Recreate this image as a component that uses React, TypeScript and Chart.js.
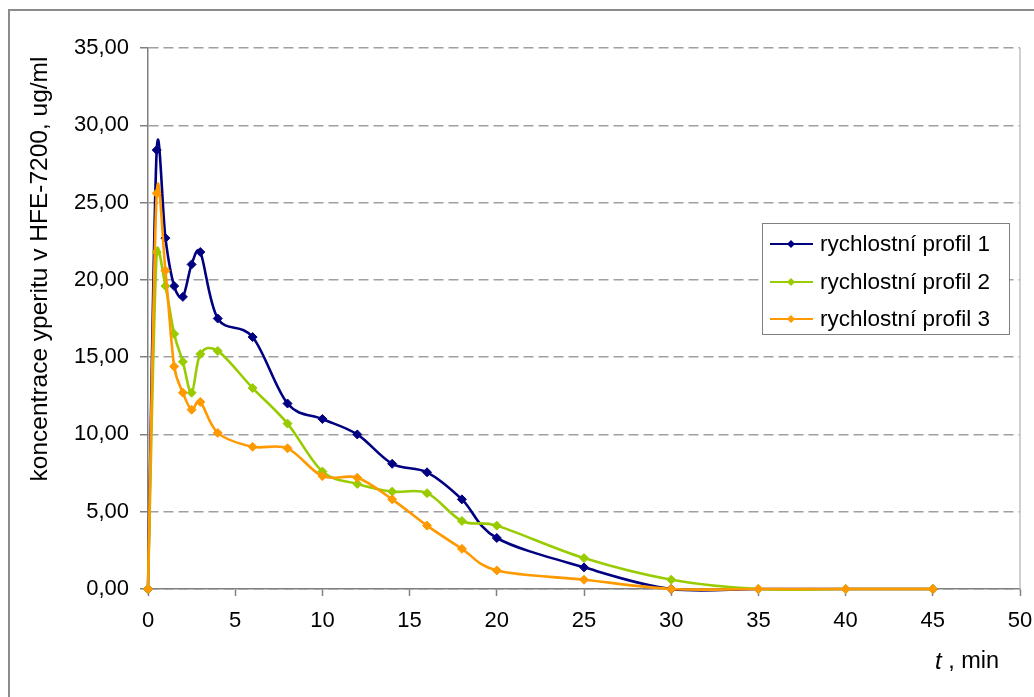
import React, { useEffect, useRef } from "react";
import { Chart, registerables } from "chart.js";

Chart.register(...registerables);

const times = [0, 0.5, 1, 1.5, 2, 2.5, 3, 4, 6, 8, 10, 12, 14, 16, 18, 20, 25, 30, 35, 40, 45];
const profil1 = [0, 28.4, 22.7, 19.6, 18.9, 21.0, 21.8, 17.5, 16.3, 12.0, 11.0, 10.0, 8.1, 7.55, 5.8, 3.3, 1.4, 0, 0, 0, 0];
const profil2 = [0, 21.8, 19.6, 16.5, 14.7, 12.7, 15.2, 15.4, 13.0, 10.7, 7.6, 6.8, 6.3, 6.2, 4.4, 4.1, 2.0, 0.6, 0, 0, 0];
const profil3 = [0, 25.6, 20.6, 14.4, 12.7, 11.6, 12.1, 10.1, 9.2, 9.1, 7.3, 7.2, 5.8, 4.1, 2.6, 1.2, 0.6, 0, 0, 0, 0];

const seriesLabels = ["rychlostní profil 1", "rychlostní profil 2", "rychlostní profil 3"];
const seriesColors = ["#000080", "#99CC00", "#FF9900"];
const yTitle = "koncentrace yperitu v HFE-7200, ug/ml";
const xTitleItalic = "t";
const xTitleRest = " , min";

const FONT = "'Liberation Sans', Arial, sans-serif";

const toPts = (vals: number[]) => vals.map((v, i) => ({ x: times[i], y: v }));

// Excel-like smoothing of the line (control points computed from the library's own pixel positions)
const smoothPlugin = {
  id: "excelSmooth",
  beforeDatasetsDraw(chart: any) {
    chart.data.datasets.forEach((_d: any, di: number) => {
      const meta = chart.getDatasetMeta(di);
      const pts = meta.data;
      const n = pts.length;
      const dist = (a: any, b: any) => Math.hypot(b.x - a.x, b.y - a.y);
      for (let i = 0; i < n - 1; i++) {
        const p1 = pts[i];
        const p2 = pts[i + 1];
        const p0 = i > 0 ? pts[i - 1] : p1;
        const p3 = i + 2 < n ? pts[i + 2] : p2;
        const d02 = dist(p0, p2);
        const d12 = dist(p1, p2);
        const d13 = dist(p1, p3);
        const f0 = d02 / 6 < d12 / 2 ? 1 / 6 : d02 > 0 ? d12 / (2 * d02) : 0;
        const f3 = d13 / 6 < d12 / 2 ? 1 / 6 : d13 > 0 ? d12 / (2 * d13) : 0;
        p1.cp2x = p1.x + (p2.x - p0.x) * f0;
        p1.cp2y = p1.y + (p2.y - p0.y) * f0;
        p2.cp1x = p2.x - (p3.x - p1.x) * f3;
        p2.cp1y = p2.y - (p3.y - p1.y) * f3;
      }
      if (n) {
        pts[0].cp1x = pts[0].x;
        pts[0].cp1y = pts[0].y;
        pts[n - 1].cp2x = pts[n - 1].x;
        pts[n - 1].cp2y = pts[n - 1].y;
      }
      if (meta.dataset) {
        meta.dataset._pointsUpdated = true;
        meta.dataset._path = undefined;
      }
    });
  },
};

const decorPlugin = {
  id: "decor",
  beforeDraw(chart: any) {
    const ctx = chart.ctx;
    ctx.save();
    ctx.strokeStyle = "#8c8c8c";
    ctx.lineWidth = 2;
    ctx.strokeRect(9, 10, 1200, 1000);
    ctx.restore();
  },
  beforeDatasetsDraw(chart: any) {
    const { ctx, chartArea } = chart;
    ctx.save();
    ctx.strokeStyle = "#c0c0c0";
    ctx.lineWidth = 1.5;
    ctx.beginPath();
    ctx.moveTo(chartArea.right, chartArea.top);
    ctx.lineTo(chartArea.right, chartArea.bottom);
    ctx.stroke();
    ctx.restore();
  },
  afterDraw(chart: any) {
    const ctx = chart.ctx;
    ctx.save();
    ctx.fillStyle = "#000";
    ctx.font = `24.5px ${FONT}`;
    ctx.translate(40, 269);
    ctx.rotate(-Math.PI / 2);
    ctx.textAlign = "center";
    ctx.textBaseline = "middle";
    ctx.fillText(yTitle, 0, 0);
    ctx.restore();

    ctx.save();
    ctx.fillStyle = "#000";
    ctx.textBaseline = "middle";
    ctx.textAlign = "left";
    ctx.font = `italic 24px ${FONT}`;
    const tx = 935;
    ctx.fillText(xTitleItalic, tx, 662);
    const w = ctx.measureText(xTitleItalic).width;
    ctx.font = `23.5px ${FONT}`;
    ctx.fillText(xTitleRest, tx + w, 662);
    ctx.restore();

    ctx.save();
    const bx = 762, by = 223, bw = 247, bh = 111;
    ctx.fillStyle = "#fff";
    ctx.fillRect(bx, by, bw, bh);
    ctx.strokeStyle = "#808080";
    ctx.lineWidth = 1;
    ctx.strokeRect(bx + 0.5, by + 0.5, bw, bh);
    const rows = [244, 282, 319];
    ctx.font = `22.5px ${FONT}`;
    ctx.textBaseline = "middle";
    ctx.textAlign = "left";
    seriesLabels.forEach((lab, i) => {
      const y = rows[i];
      ctx.strokeStyle = seriesColors[i];
      ctx.lineWidth = 2;
      ctx.beginPath();
      ctx.moveTo(770, y);
      ctx.lineTo(813, y);
      ctx.stroke();
      ctx.fillStyle = seriesColors[i];
      ctx.beginPath();
      ctx.moveTo(791 - 4, y);
      ctx.lineTo(791, y - 4);
      ctx.lineTo(791 + 4, y);
      ctx.lineTo(791, y + 4);
      ctx.closePath();
      ctx.fill();
      ctx.fillStyle = "#000";
      ctx.fillText(lab, 820, y + 1);
    });
    ctx.restore();
  },
};

export default function App() {
  const ref = useRef<HTMLCanvasElement>(null);
  useEffect(() => {
    if (!ref.current) return;
    const series = [profil1, profil2, profil3];
    const chart = new Chart(ref.current, {
      type: "line",
      data: {
        datasets: series.map((vals, i) => ({
          label: seriesLabels[i],
          data: toPts(vals),
          borderColor: seriesColors[i],
          backgroundColor: seriesColors[i],
          borderWidth: 2.6,
          pointStyle: "rectRot",
          pointRadius: 4.5,
          pointBorderWidth: 1,
          pointBorderColor: seriesColors[i],
          pointBackgroundColor: seriesColors[i],
          tension: 0.3,
          fill: false,
          order: 2 - i,
          clip: 6,
        })),
      },
      options: {
        animation: false,
        responsive: true,
        maintainAspectRatio: false,
        elements: { line: { capBezierPoints: false } },
        layout: { padding: { left: 0, top: 48, right: 14, bottom: 0 } },
        plugins: {
          legend: { display: false },
          tooltip: { enabled: false },
        },
        scales: {
          x: {
            type: "linear",
            min: 0,
            max: 50,
            afterFit: (s: any) => {
              s.height = 108;
              s.paddingLeft = 0;
              s.paddingRight = 0;
            },
            ticks: {
              stepSize: 5,
              color: "#000",
              font: { family: FONT, size: 22 },
              padding: 12,
              maxRotation: 0,
            },
            grid: {
              drawOnChartArea: false,
              drawTicks: true,
              tickLength: 7,
              tickColor: "#808080",
              tickWidth: 1.5,
            },
            border: { display: true, color: "#808080", width: 1.5 },
          },
          y: {
            type: "linear",
            min: 0,
            max: 35,
            afterFit: (s: any) => {
              s.width = 148;
              s.paddingTop = 0;
              s.paddingBottom = 0;
            },
            ticks: {
              stepSize: 5,
              color: "#000",
              font: { family: FONT, size: 22 },
              padding: 11,
              callback: (v: any) => Number(v).toFixed(2).replace(".", ","),
            },
            grid: {
              drawOnChartArea: true,
              drawTicks: true,
              tickLength: 8,
              color: "#a0a0a0",
              lineWidth: 1.5,
              tickColor: "#808080",
            },
            border: { display: true, color: "#808080", width: 1.5, dash: [10, 5] },
          },
        },
      },
      plugins: [smoothPlugin, decorPlugin],
    });
    return () => chart.destroy();
  }, []);
  return (
    <div style={{ position: "absolute", left: 0, top: 0, width: 1034, height: 697 }}>
      <canvas ref={ref} />
    </div>
  );
}
